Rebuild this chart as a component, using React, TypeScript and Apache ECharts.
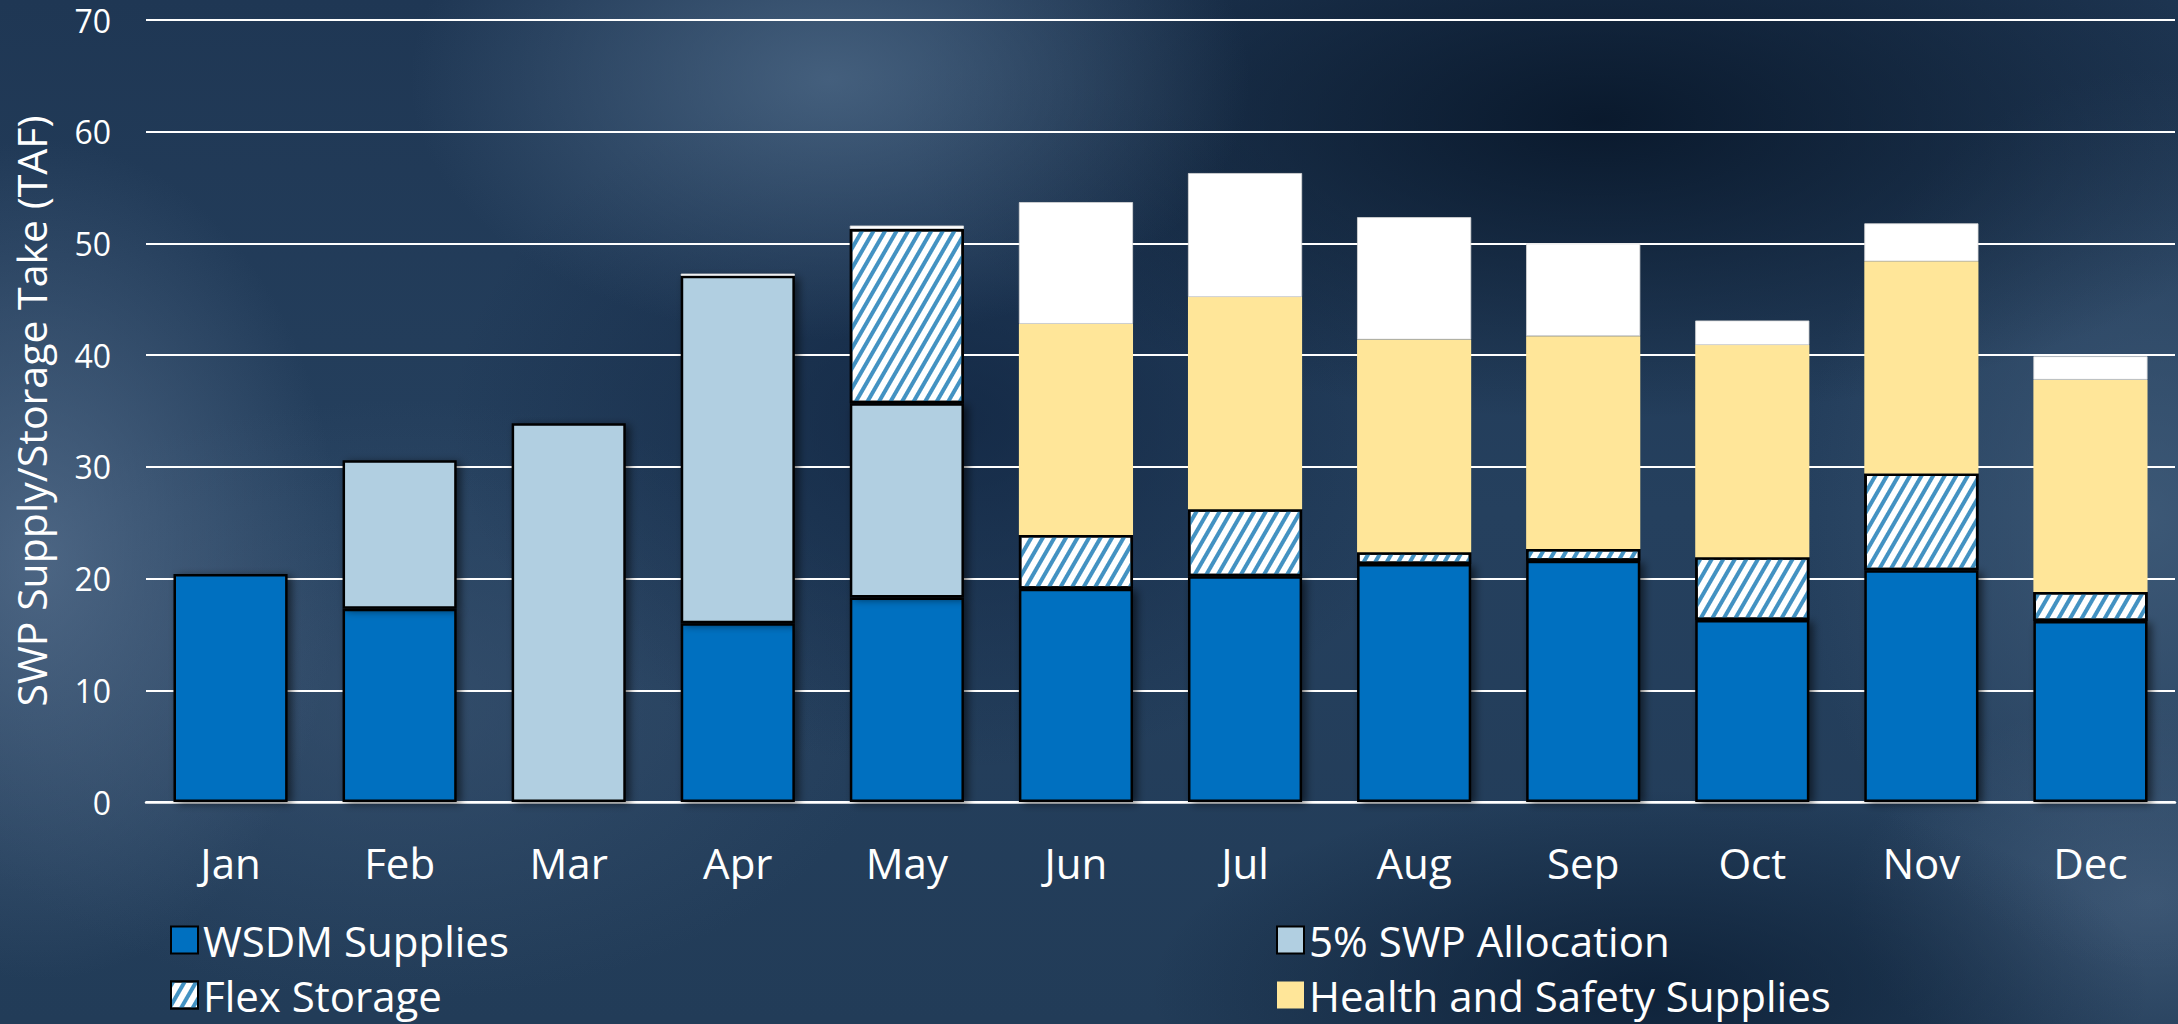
import React, { useEffect, useRef } from "react";
import * as echarts from "echarts";

const months = ["Jan", "Feb", "Mar", "Apr", "May", "Jun", "Jul", "Aug", "Sep", "Oct", "Nov", "Dec"];
const wsdm = [20.4, 17.3, "-", 16.0, 18.3, 19.1, 20.2, 21.3, 21.6, 16.3, 20.75, 16.2];
const swp5 = ["-", 13.3, 33.9, 31.1, 17.4, "-", "-", "-", "-", "-", "-", "-"];
const flex = ["-", "-", "-", "-", 15.6, 4.8, 6.0, 1.05, 1.05, 5.6, 8.65, 2.6];
const healthSafety = ["-", "-", "-", "-", "-", 18.9, 19.0, 19.05, 19.05, 19.0, 19.0, 19.0];
const other = ["-", "-", "-", 0.2, 0.3, 10.9, 11.1, 10.95, 8.3, 2.2, 3.4, 2.1];
const yTicks = { min: 0, max: 70, interval: 10 };

const FONT = "'Open Sans', 'Noto Sans', sans-serif";

export default function App() {
  const ref = useRef<HTMLDivElement>(null);
  useEffect(() => {
    if (!ref.current) return;
    const chart = echarts.init(ref.current, undefined, { renderer: "svg" });
    const shadow = {
      shadowColor: "rgba(0,0,0,0.55)",
      shadowBlur: 8,
      shadowOffsetX: 4,
      shadowOffsetY: 2,
    };
    const common = {
      type: "bar",
      stack: "total",
      barWidth: "67.5%",
    };
    const legendCommon = {
      orient: "vertical",
      top: 914,
      icon: "rect",
      itemWidth: 27,
      itemHeight: 27,
      itemGap: 13,
      itemTextGap: 12,
      textStyle: { color: "#ffffff", fontSize: 42, fontFamily: FONT, lineHeight: 40 },
    };
    chart.setOption({
      animation: false,
      backgroundColor: "transparent",
      grid: { left: 146, right: 3, top: 20, bottom: 222, containLabel: false },
      legend: [
        { ...legendCommon, data: ["WSDM Supplies", "Flex Storage"], left: 165 },
        { ...legendCommon, data: ["5% SWP Allocation", "Health and Safety Supplies"], left: 1271 },
      ],
      xAxis: {
        type: "category",
        data: months,
        axisLine: { show: true, lineStyle: { color: "#ffffff", width: 2.5 } },
        axisTick: { show: false },
        axisLabel: { color: "#ffffff", fontSize: 42, fontFamily: FONT, margin: 39 },
      },
      yAxis: {
        type: "value",
        min: yTicks.min,
        max: yTicks.max,
        interval: yTicks.interval,
        name: "SWP Supply/Storage Take (TAF)",
        nameLocation: "middle",
        nameGap: 95,
        nameTextStyle: { color: "#ffffff", fontSize: 41, fontFamily: FONT },
        axisLine: { show: false },
        axisTick: { show: false },
        axisLabel: { color: "#ffffff", fontSize: 32, fontFamily: FONT, margin: 35 },
        splitLine: { lineStyle: { color: "#ffffff", width: 2 } },
      },
      series: [
        {
          ...common,
          name: "WSDM Supplies",
          data: wsdm,
          itemStyle: { color: "#0070c0", borderColor: "#000000", borderWidth: 2.5, ...shadow },
        },
        {
          ...common,
          name: "5% SWP Allocation",
          data: swp5,
          itemStyle: { color: "#b1cfe1", borderColor: "#000000", borderWidth: 2.5, ...shadow },
        },
        {
          ...common,
          name: "Flex Storage",
          data: flex,
          itemStyle: {
            color: "#ffffff",
            borderColor: "#000000",
            borderWidth: 2.5,
            decal: {
              symbol: "rect",
              symbolSize: 1,
              color: "#4392c2",
              backgroundColor: "#ffffff",
              dashArrayX: [1, 0],
              dashArrayY: [4, 6],
              rotation: -Math.PI / 3,
            },
          },
        },
        {
          ...common,
          name: "Health and Safety Supplies",
          data: healthSafety,
          itemStyle: { color: "#ffe699", borderWidth: 0 },
        },
        {
          ...common,
          name: "Other",
          data: other,
          itemStyle: { color: "#ffffff", borderColor: "#d9d9d9", borderWidth: 0.8 },
        },
      ],
    });
    return () => chart.dispose();
  }, []);

  const bg = [
    "radial-gradient(ellipse 420px 260px at 830px 80px, rgba(80,108,138,0.75), rgba(80,108,138,0) 100%)",
    "radial-gradient(ellipse 300px 420px at 40px 560px, rgba(85,110,140,0.8), rgba(85,110,140,0) 100%)",
    "radial-gradient(ellipse 700px 300px at 1600px 120px, rgba(6,20,38,0.85), rgba(6,20,38,0) 100%)",
    "radial-gradient(ellipse 500px 350px at 950px 420px, rgba(14,34,62,0.7), rgba(14,34,62,0) 100%)",
    "radial-gradient(ellipse 350px 450px at 2150px 520px, rgba(70,98,128,0.7), rgba(70,98,128,0) 100%)",
    "radial-gradient(ellipse 500px 200px at 1650px 990px, rgba(10,28,50,0.8), rgba(10,28,50,0) 100%)",
    "radial-gradient(ellipse 300px 200px at 2150px 900px, rgba(70,96,126,0.7), rgba(70,96,126,0) 100%)",
    "radial-gradient(ellipse 500px 300px at 400px 700px, rgba(60,86,116,0.6), rgba(60,86,116,0) 100%)",
    "linear-gradient(180deg, #1f3754 0%, #25405e 50%, #223c58 100%)",
  ].join(", ");

  return (
    <div
      style={{
        position: "absolute",
        left: 0,
        top: 0,
        width: 2178,
        height: 1024,
        background: bg,
        overflow: "hidden",
      }}
    >
      <div ref={ref} style={{ width: 2178, height: 1024 }} />
    </div>
  );
}
